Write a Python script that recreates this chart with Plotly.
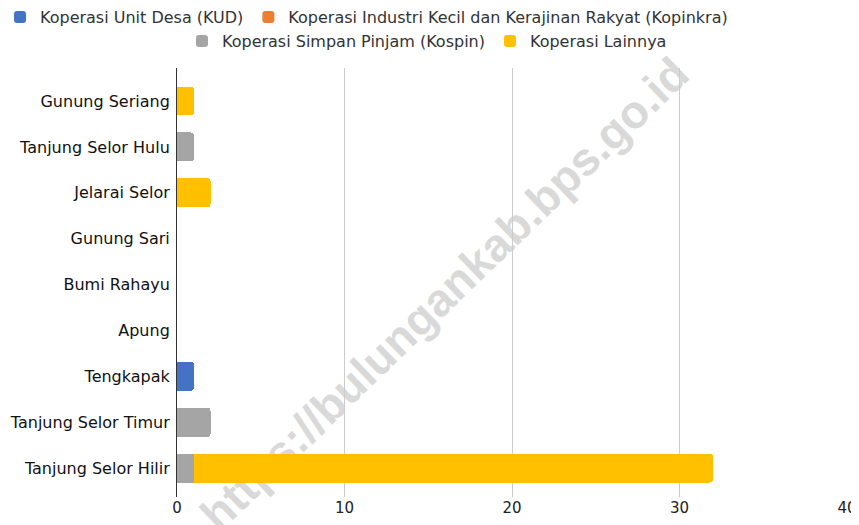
import plotly.graph_objects as go

categories = ["Gunung Seriang", "Tanjung Selor Hulu", "Jelarai Selor", "Gunung Sari",
              "Bumi Rahayu", "Apung", "Tengkapak", "Tanjung Selor Timur", "Tanjung Selor Hilir"]
series_names = ["Koperasi Unit Desa (KUD)",
                "Koperasi Industri Kecil dan Kerajinan Rakyat (Kopinkra)",
                "Koperasi Simpan Pinjam (Kospin)",
                "Koperasi Lainnya"]
kud = [0, 0, 0, 0, 0, 0, 1, 0, 0]
kopinkra = [0, 0, 0, 0, 0, 0, 0, 0, 0]
kospin = [0, 1, 0, 0, 0, 0, 0, 2, 1]
lainnya = [1, 0, 2, 0, 0, 0, 0, 0, 31]
colors = ["#4472C4", "#ED7D31", "#A5A5A5", "#FFC000"]
x_ticks = [0, 10, 20, 30, 40]
watermark = "https://bulungankab.bps.go.id"

FONT = "DejaVu Sans"
fig = go.Figure()
values = [kud, kopinkra, kospin, lainnya]
legends = ["legend", "legend", "legend2", "legend2"]
for name, vals, col, lg in zip(series_names, values, colors, legends):
    fig.add_trace(go.Bar(
        y=categories, x=vals, name=name, orientation="h",
        marker=dict(color=col, line=dict(width=0)),
        legend=lg, hoverinfo="x+y+name",
    ))

leg_common = dict(orientation="h", yanchor="middle",
                  font=dict(family=FONT, size=16, color="#333"), itemsizing="constant",
                  bgcolor="rgba(0,0,0,0)", tracegroupgap=0, traceorder="normal")

PW, PT, PB = 670, 60 + 8, 497  # plot area width, screen top, screen bottom
fig.update_layout(
    barmode="stack",
    bargap=0.37,
    barcornerradius=3,
    width=851, height=517,
    margin=dict(l=169, r=12, t=60, b=28, autoexpand=False),
    paper_bgcolor="white", plot_bgcolor="white",
    font=dict(family=FONT, size=13, color="#222"),
    legend=dict(x=(0 - 177) / PW, xanchor="left", y=(PB - 17) / (PB - PT), **leg_common),
    legend2=dict(x=(427 - 177) / PW, xanchor="center", y=(PB - 41) / (PB - PT), **leg_common),
    xaxis=dict(range=[0, 40], tickvals=x_ticks, showgrid=True, gridcolor="#cccccc",
               gridwidth=1, zeroline=False, showline=False, automargin=False,
               tickfont=dict(family=FONT, size=15, color="#222"), fixedrange=True),
    yaxis=dict(categoryorder="array", categoryarray=categories, automargin=False,
               range=[8.63, -0.72], showgrid=False, showline=True, linecolor="#333",
               linewidth=1, zeroline=False, ticks="", ticklabelstandoff=3,
               tickfont=dict(family=FONT, size=16, color="#111"), fixedrange=True),
    shapes=[dict(type="line", xref="paper", yref="paper",
                 x0=0.002, y0=-0.32, x1=0.842, y1=1.18, layer="below",
                 line=dict(width=0, color="rgba(0,0,0,0)"),
                 label=dict(text=watermark, textposition="middle", textangle=-44,
                            font=dict(family="Liberation Sans", size=46, color="#d9d9d9",
                                      weight="bold")))],
)

fig.write_html("out.html")
